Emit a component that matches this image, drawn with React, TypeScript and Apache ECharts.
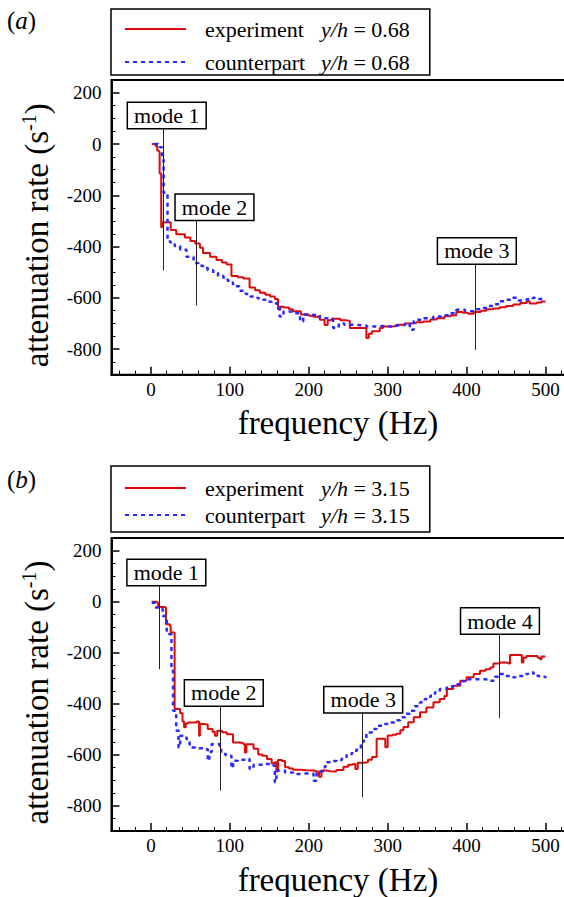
import React, { useEffect, useRef } from "react";
import * as echarts from "echarts";

const FONT = "Liberation Serif, Times New Roman, serif";

// ---- axis ticks ----
const X_MIN = -50;
const X_MAX = 600;
const Y_MIN = -900;
const Y_MAX = 250;
const xMajor = [0, 100, 200, 300, 400, 500];
const xMinor = [-40, -20, 20, 40, 60, 80, 120, 140, 160, 180, 220, 240, 260, 280, 320, 340, 360, 380, 420, 440, 460, 480, 520, 540, 560, 580];
const yMajor = [-800, -600, -400, -200, 0, 200];
const yMinor = [-850, -750, -700, -650, -550, -500, -450, -350, -300, -250, -150, -100, -50, 50, 100, 150, 250];

// ---- legend labels ----
const seriesKinds = ["experiment", "counterpart"];
const yhA = "0.68";
const yhB = "3.15";

// ---- panel (a) data: [frequency Hz, attenuation rate 1/s] ----
const expA: [number, number][] = [
  [1, 0], [6, -8], [8, -25], [10, -30], [11, -115], [13, -325], [14, -305], [25, -335], [32, -352], [43, -365], [50, -378],
  [56, -388], [62, -405], [66, -425], [75, -440], [83, -452], [90, -462], [96, -470], [102, -515], [110, -520], [117, -525],
  [125, -560], [132, -570], [138, -580], [145, -588], [151, -595], [157, -605], [161, -645], [164, -635], [168, -638],
  [175, -645], [180, -652], [190, -665], [200, -670], [206, -674], [214, -686], [220, -706], [224, -688], [229, -682],
  [240, -688], [248, -690], [252, -718], [262, -718], [269, -718], [273, -757], [276, -740], [280, -730], [290, -718],
  [294, -712], [305, -710], [311, -705], [322, -700], [328, -698], [336, -695], [345, -692], [354, -685], [362, -680],
  [372, -672], [380, -668], [387, -655], [395, -658], [402, -662], [409, -655], [418, -650], [425, -645], [434, -642],
  [442, -637], [450, -632], [459, -626], [468, -620], [476, -613], [480, -622], [489, -618], [495, -614], [500, -614],
];
const cntA: [number, number][] = [
  [4, 0], [9, -5], [11, -12], [14, -60], [16, -190], [19, -198], [21, -380], [25, -390], [30, -398], [37, -412], [45, -440],
  [54, -464], [60, -475], [66, -484], [72, -492], [79, -503], [85, -515], [92, -529], [98, -540], [104, -555], [112, -572],
  [120, -585], [126, -595], [135, -602], [142, -608], [148, -615], [153, -621], [160, -635], [163, -673], [168, -653],
  [175, -655], [182, -660], [189, -692], [193, -665], [201, -667], [206, -666], [214, -680], [222, -682], [231, -718],
  [238, -700], [245, -705], [252, -706], [262, -708], [273, -712], [284, -710], [294, -712], [305, -708], [316, -706],
  [322, -700], [328, -725], [333, -690], [337, -686], [346, -680], [358, -673], [368, -668], [379, -660], [387, -647],
  [398, -652], [412, -645], [420, -640], [426, -632], [434, -625], [442, -613], [450, -608], [459, -600], [466, -610],
  [476, -606], [484, -600], [490, -605], [500, -608],
];

// ---- panel (b) data ----
const expB: [number, number][] = [
  [1, 0], [8, -4], [9, -21], [17, -23], [19, -89], [24, -95], [25, -121], [29, -121], [30, -421], [37, -438], [40, -470],
  [42, -493], [44, -478], [47, -474], [58, -470], [61, -526], [62, -480], [66, -482], [72, -500], [78, -510], [81, -526],
  [84, -507], [90, -512], [96, -520], [104, -553], [112, -555], [117, -559], [119, -592], [121, -560], [130, -577],
  [136, -600], [141, -605], [147, -617], [153, -634], [157, -630], [159, -666], [161, -621], [166, -625], [170, -650],
  [175, -655], [180, -660], [190, -662], [197, -663], [208, -666], [213, -687], [216, -663], [222, -665], [227, -666],
  [235, -661], [244, -648], [250, -640], [256, -637], [259, -657], [262, -632], [269, -630], [275, -620], [280, -610],
  [286, -538], [294, -538], [297, -571], [300, -525], [306, -522], [311, -518], [316, -505], [320, -492], [326, -473],
  [333, -454], [341, -434], [349, -415], [358, -395], [366, -382], [372, -370], [375, -343], [383, -330], [392, -310],
  [400, -297], [409, -284], [417, -271], [424, -265], [430, -258], [434, -243], [442, -239], [448, -240], [453, -243],
  [455, -209], [466, -209], [470, -239], [472, -220], [476, -213], [485, -213], [490, -220], [493, -226], [495, -215],
  [500, -213],
];
const cntB: [number, number][] = [
  [1, -4], [5, -23], [11, -29], [15, -56], [20, -115], [23, -128], [26, -271], [28, -428], [32, -506], [35, -572],
  [37, -526], [45, -539], [49, -572], [56, -575], [66, -579], [72, -624], [74, -590], [77, -559], [87, -566], [89, -598],
  [95, -605], [102, -653], [104, -624], [110, -620], [121, -617], [125, -656], [130, -640], [142, -637], [150, -640],
  [155, -643], [157, -709], [159, -663], [170, -670], [180, -676], [190, -674], [197, -674], [206, -703], [210, -666],
  [218, -650], [221, -630], [228, -625], [235, -621], [242, -610], [248, -598], [255, -585], [261, -572], [266, -560],
  [269, -546], [273, -513], [280, -500], [286, -487], [295, -480], [303, -474], [310, -465], [316, -454], [322, -440],
  [328, -428], [334, -410], [341, -395], [347, -382], [354, -369], [360, -355], [366, -343], [375, -333], [383, -324],
  [392, -312], [400, -304], [410, -304], [417, -304], [423, -306], [430, -310], [436, -295], [442, -284], [448, -292],
  [455, -297], [462, -292], [468, -291], [473, -284], [478, -278], [485, -291], [492, -295], [500, -300],
];

// ---- mode annotations ----
const modeNamesA = ["mode 1", "mode 2", "mode 3"];
const modeLineFreqA = [15.6, 57, 411.5];
const modeLabelFreqA = [20, 80.5, 413];
const modeLabelValA = [111, -247, -417];
const modeLineEndA = [-493, -630, -803];

const modeNamesB = ["mode 1", "mode 2", "mode 3", "mode 4"];
const modeLineFreqB = [10, 87.5, 268, 442];
const modeLabelFreqB = [19.5, 92.3, 269, 442.3];
const modeLabelValB = [115, -358, -385, -76];
const modeLineEndB = [-265, -741, -768, -457];

const RED = "#dd0a0a";
const BLUE = "#2a2aff";
const BOX_HALF = 49; // half box height in data units

function markLines(freq: number[], labelVal: number[], end: number[]) {
  return {
    silent: true,
    symbol: ["none", "none"],
    label: { show: false },
    lineStyle: { color: "#222", width: 1, type: "solid" },
    emphasis: { disabled: true },
    data: freq.map((f, i) => [{ coord: [f, labelVal[i] - BOX_HALF] }, { coord: [f, end[i]] }]),
  };
}
function markPoints(names: string[], freq: number[], val: number[]) {
  return {
    silent: true,
    symbol: "rect",
    symbolSize: 1,
    itemStyle: { color: "rgba(0,0,0,0)" },
    label: {
      show: true,
      position: "inside",
      formatter: "{b}",
      fontFamily: FONT,
      fontSize: 22,
      lineHeight: 22,
      color: "#000",
      backgroundColor: "#fff",
      borderColor: "#000",
      borderWidth: 1.5,
      padding: [2, 6, 1, 6],
    },
    data: names.map((n, i) => ({ name: n, coord: [freq[i], val[i]] })),
  };
}

function buildOption() {
  const grids = [
    { left: 111.5, top: 80, width: 512.9, height: 294.7 },
    { left: 111.5, top: 538, width: 512.9, height: 293.5 },
  ];
  const xAxes: any[] = [];
  const yAxes: any[] = [];
  grids.forEach((_, g) => {
    xAxes.push({
      type: "value", gridIndex: g, min: X_MIN, max: X_MAX, position: "bottom",
      axisLine: { show: true, onZero: false, lineStyle: { color: "#000", width: 2 } },
      axisTick: { show: true, inside: true, length: 8, customValues: xMajor, lineStyle: { color: "#000", width: 1.5 } },
      axisLabel: { show: true, customValues: xMajor, fontFamily: FONT, fontSize: 19, color: "#000", margin: 5 },
      splitLine: { show: false },
      name: "frequency (Hz)", nameLocation: "middle", nameGap: 32,
      nameTextStyle: { fontFamily: FONT, fontSize: 33, color: "#000", padding: [0, 60, 0, 0] },
    });
    xAxes.push({
      type: "value", gridIndex: g, min: X_MIN, max: X_MAX, position: "bottom",
      axisLine: { show: false, onZero: false },
      axisTick: { show: true, inside: true, length: 4, customValues: xMinor, lineStyle: { color: "#000", width: 1 } },
      axisLabel: { show: false },
      splitLine: { show: false },
    });
    yAxes.push({
      type: "value", gridIndex: g, min: Y_MIN, max: Y_MAX, position: "left",
      axisLine: { show: true, onZero: false, lineStyle: { color: "#000", width: 2 } },
      axisTick: { show: true, inside: true, length: 8, customValues: yMajor, lineStyle: { color: "#000", width: 1.5 } },
      axisLabel: { show: true, customValues: yMajor, fontFamily: FONT, fontSize: 19, color: "#000", margin: 10 },
      splitLine: { show: false },
      name: "{n|attenuation rate (s}{s|-1}{n|)}", nameLocation: "middle", nameRotate: 90, nameGap: 57,
      nameTextStyle: {
        fontFamily: FONT, fontSize: 33, color: "#000", padding: [0, 16, 0, 0],
        rich: {
          n: { fontFamily: FONT, fontSize: 33, lineHeight: 36, color: "#000" },
          s: { fontFamily: FONT, fontSize: 20, lineHeight: 20, color: "#000", verticalAlign: "top" },
        },
      },
    });
    yAxes.push({
      type: "value", gridIndex: g, min: Y_MIN, max: Y_MAX, position: "left",
      axisLine: { show: false, onZero: false },
      axisTick: { show: true, inside: true, length: 4, customValues: yMinor, lineStyle: { color: "#000", width: 1 } },
      axisLabel: { show: false },
      splitLine: { show: false },
    });
  });

  const nameExpA = `${seriesKinds[0]}|${yhA}`;
  const nameCntA = `${seriesKinds[1]}|${yhA}`;
  const nameExpB = `${seriesKinds[0]}|${yhB}`;
  const nameCntB = `${seriesKinds[1]}|${yhB}`;

  const legendCommon = {
    orient: "vertical",
    left: 111,
    selectedMode: false,
    itemWidth: 61,
    itemHeight: 14,
    borderColor: "#000",
    borderWidth: 1.5,
    backgroundColor: "#fff",
    itemStyle: { opacity: 0 },
    formatter: (name: string) => {
      const [kind, yh] = name.split("|");
      return `{t|${kind}}{i|y/h}{r| = ${yh}}`;
    },
    textStyle: {
      fontFamily: FONT, fontSize: 22, color: "#000", lineHeight: 26, padding: [0, 0, 0, 14],
      rich: {
        t: { fontFamily: FONT, fontSize: 22, lineHeight: 26, color: "#000", width: 116 },
        i: { fontFamily: FONT, fontSize: 22, lineHeight: 26, color: "#000", fontStyle: "italic" },
        r: { fontFamily: FONT, fontSize: 22, lineHeight: 26, color: "#000" },
      },
    },
  };

  const lineCommon = { type: "line", showSymbol: false, symbol: "none", step: "end", silent: true };
  const redStyle = { color: RED, width: 2 };
  const blueStyle = { color: BLUE, width: 2.5, type: [4, 4] };
  const titleRich = {
    p: { fontFamily: FONT, fontSize: 25, color: "#000", fontWeight: "normal" },
    i: { fontFamily: FONT, fontSize: 25, color: "#000", fontStyle: "italic", fontWeight: "normal" },
  };

  return {
    animation: false,
    backgroundColor: "#fff",
    textStyle: { fontFamily: FONT },
    title: [
      { text: "{p|(}{i|a}{p|)}", left: 7, top: 8, padding: 0, textStyle: { fontWeight: "normal", fontFamily: FONT, rich: titleRich } },
      { text: "{p|(}{i|b}{p|)}", left: 7, top: 467, padding: 0, textStyle: { fontWeight: "normal", fontFamily: FONT, rich: titleRich } },
    ],
    legend: [
      { ...legendCommon, top: 9, itemGap: 7, padding: [7, 20, 0, 13], data: [nameExpA, nameCntA] },
      { ...legendCommon, top: 466, itemGap: 1, padding: [9, 20, 4, 13], data: [nameExpB, nameCntB] },
    ],
    grid: grids.map((g) => ({ ...g, show: true, borderColor: "#000", borderWidth: 2, backgroundColor: "transparent" })),
    xAxis: xAxes,
    yAxis: yAxes,
    series: [
      { ...lineCommon, name: nameCntA, xAxisIndex: 0, yAxisIndex: 0, data: cntA, lineStyle: blueStyle, itemStyle: { color: BLUE }, z: 3 },
      { ...lineCommon, name: nameExpA, xAxisIndex: 0, yAxisIndex: 0, data: expA, lineStyle: redStyle, itemStyle: { color: RED }, z: 2,
        markLine: markLines(modeLineFreqA, modeLabelValA, modeLineEndA),
        markPoint: markPoints(modeNamesA, modeLabelFreqA, modeLabelValA) },
      { ...lineCommon, name: nameCntB, xAxisIndex: 2, yAxisIndex: 2, data: cntB, lineStyle: blueStyle, itemStyle: { color: BLUE }, z: 3 },
      { ...lineCommon, name: nameExpB, xAxisIndex: 2, yAxisIndex: 2, data: expB, lineStyle: redStyle, itemStyle: { color: RED }, z: 2,
        markLine: markLines(modeLineFreqB, modeLabelValB, modeLineEndB),
        markPoint: markPoints(modeNamesB, modeLabelFreqB, modeLabelValB) },
    ],
  };
}

export default function App() {
  const ref = useRef<HTMLDivElement>(null);
  useEffect(() => {
    if (!ref.current) return;
    const chart = echarts.init(ref.current, null, { renderer: "svg" });
    chart.setOption(buildOption() as any);
    return () => chart.dispose();
  }, []);
  return (
    <div style={{ position: "fixed", left: 0, top: 0, width: 564, height: 897, overflow: "hidden", background: "#fff" }}>
      <div ref={ref} style={{ width: 640, height: 897 }} />
    </div>
  );
}
